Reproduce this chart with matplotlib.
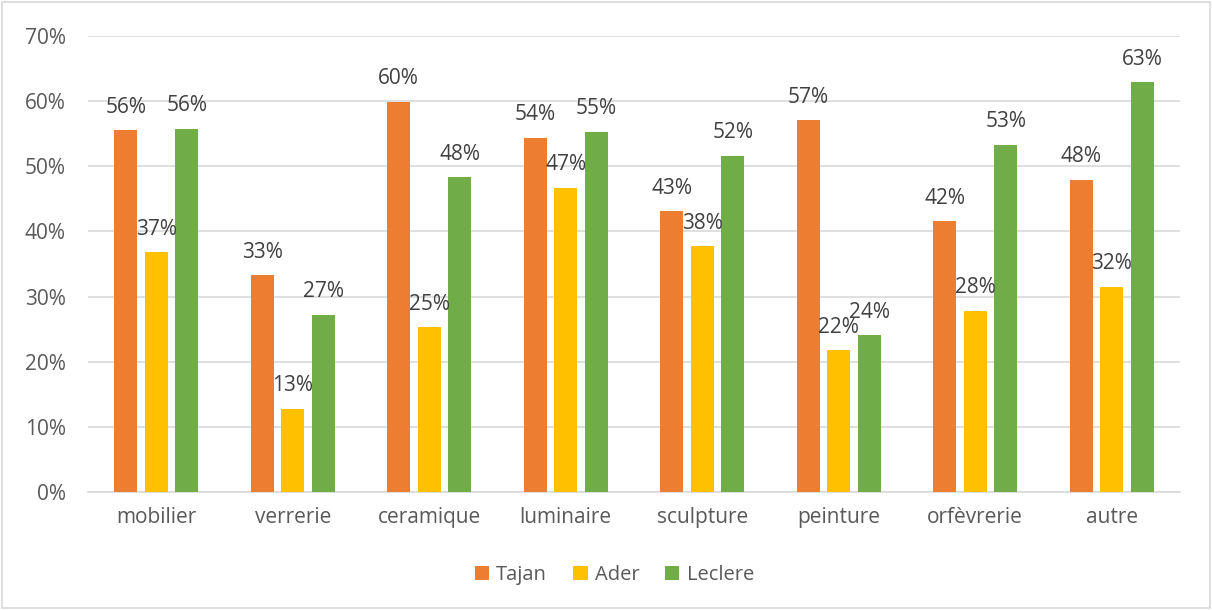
import matplotlib
matplotlib.use("Agg")
import matplotlib.pyplot as plt
import numpy as np
from matplotlib.ticker import PercentFormatter
from matplotlib.patches import Rectangle

categories = ["mobilier", "verrerie", "ceramique", "luminaire", "sculpture",
              "peinture", "orfèvrerie", "autre"]
tajan = [55.5, 33.3, 59.9, 54.4, 43.1, 57.1, 41.6, 47.9]
ader = [36.8, 12.8, 25.3, 46.7, 37.7, 21.8, 27.8, 31.5]
leclere = [55.8, 27.2, 48.3, 55.3, 51.6, 24.1, 53.3, 62.9]
series_names = ["Tajan", "Ader", "Leclere"]
colors = ["#ED7D31", "#FFC000", "#70AD47"]

plt.rcParams['font.family'] = ['Open Sans', 'DejaVu Sans']

fig = plt.figure(figsize=(12.12, 6.10), dpi=100)
ax = fig.add_axes([0.0726, 0.1934, 0.9010, 0.7476])

x = np.arange(len(categories))
width = 0.17
step = 0.224
for i, (vals, name, col) in enumerate(zip([tajan, ader, leclere], series_names, colors)):
    pos = x + (i - 1) * step
    ax.bar(pos, vals, width, color=col, label=name, zorder=3)
    for p, v in zip(pos, vals):
        ax.annotate(f"{v:.0f}%", (p, v), xytext=(0, 9), textcoords="offset points",
                    ha="center", va="bottom", fontsize=15, color="#404040", zorder=4)

ax.set_xlim(-0.5, len(categories) - 0.5)
ax.set_ylim(0, 70)
ax.set_yticks(np.arange(0, 71, 10))
ax.yaxis.set_major_formatter(PercentFormatter(decimals=0))
ax.set_xticks(x)
ax.set_xticklabels(categories)
ax.tick_params(axis="both", length=0, labelsize=15, labelcolor="#595959")
ax.tick_params(axis="y", pad=16)
ax.tick_params(axis="x", pad=11)
ax.grid(axis="y", color="#D9D9D9", linewidth=1.2, zorder=0)
for s in ["top", "right", "left"]:
    ax.spines[s].set_visible(False)
ax.spines["bottom"].set_color("#D9D9D9")
ax.spines["bottom"].set_linewidth(1.2)

leg = fig.legend(loc="center", bbox_to_anchor=(0.507, 1 - 575 / 610), ncol=3, frameon=False,
                 fontsize=14.5, handlelength=0.7, handleheight=0.7, handletextpad=0.35,
                 columnspacing=1.3)
for t in leg.get_texts():
    t.set_color("#595959")

fig.patches.append(Rectangle((0.002, 0.003), 0.996, 0.994, transform=fig.transFigure,
                             fill=False, edgecolor="#D9D9D9", linewidth=1.2))

fig.savefig("out.png", dpi=100, facecolor="white")
